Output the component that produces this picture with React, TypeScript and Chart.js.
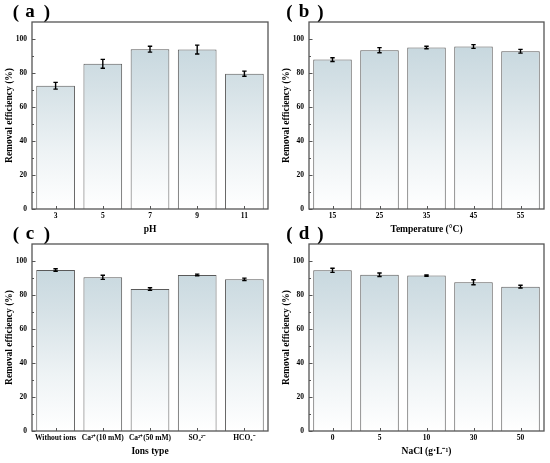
import { useEffect, useRef } from 'react'
import Chart from 'chart.js/auto'

const FONT = "'Liberation Serif', 'Times New Roman', serif"

const yMax = 110
const yStep = 20

const phLabels = ['3', '5', '7', '9', '11']
const phValues = [72.5, 85.4, 94.0, 93.8, 79.6]
const phErrors = [2.0, 2.6, 1.7, 2.6, 1.5]

const tempLabels = ['15', '25', '35', '45', '55']
const tempValues = [87.9, 93.4, 95.0, 95.6, 92.8]
const tempErrors = [1.1, 1.5, 0.7, 1.1, 1.1]

const ionLabels = ['Without ions', 'Ca²⁺(10 mM)', 'Ca²⁺(50 mM)', 'SO₄²⁻', 'HCO₃⁻']
const ionValues = [94.7, 90.4, 83.5, 91.8, 89.2]
const ionErrors = [0.7, 1.2, 0.8, 0.5, 0.7]

const naclLabels = ['0', '5', '10', '30', '50']
const naclValues = [94.5, 91.9, 91.4, 87.5, 84.9]
const naclErrors = [1.2, 1.0, 0.4, 1.5, 0.8]

// error bars, inward ticks, frame and the panel tag
const framePlugin = {
  id: 'frame',
  afterDatasetsDraw(chart: any, _args: any, opts: any) {
    const { ctx, chartArea: a, scales } = chart
    const x = scales.x
    const y = scales.y
    const vals = chart.data.datasets[0].data as number[]
    const errs = opts.errors as number[]
    const meta = chart.getDatasetMeta(0)
    ctx.save()

    ctx.strokeStyle = '#000'
    ctx.lineWidth = 1.4
    meta.data.forEach((bar: any, i: number) => {
      const top = y.getPixelForValue(vals[i] + errs[i])
      const bot = y.getPixelForValue(vals[i] - errs[i])
      ctx.beginPath()
      ctx.moveTo(bar.x, top)
      ctx.lineTo(bar.x, bot)
      ctx.moveTo(bar.x - 2.2, top)
      ctx.lineTo(bar.x + 2.2, top)
      ctx.moveTo(bar.x - 2.2, bot)
      ctx.lineTo(bar.x + 2.2, bot)
      ctx.stroke()
    })

    ctx.strokeStyle = '#555'
    ctx.lineWidth = 1
    ctx.beginPath()
    for (let v = 0; v <= 100; v += 10) {
      const py = Math.round(y.getPixelForValue(v)) + 0.5
      const len = v % 20 === 0 ? 3.5 : 2
      ctx.moveTo(a.left, py)
      ctx.lineTo(a.left + len, py)
    }
    chart.data.labels.forEach((_l: string, i: number) => {
      const px = Math.round(x.getPixelForValue(i)) + 0.5
      ctx.moveTo(px, a.bottom)
      ctx.lineTo(px, a.bottom - 3)
    })
    ctx.stroke()

    ctx.lineWidth = 1.3
    ctx.strokeRect(a.left, a.top, a.right - a.left, a.bottom - a.top)

    ctx.fillStyle = '#000'
    ctx.textAlign = 'center'
    ctx.textBaseline = 'middle'
    ctx.font = `bold 19px ${FONT}`
    const [p1, p2, p3] = opts.tagX as number[]
    ctx.fillText('(', p1, 13)
    ctx.fillText(opts.tag, p2, 12)
    ctx.fillText(')', p3, 13)
    ctx.restore()
  },
}

type PanelProps = {
  left: number
  top: number
  tag: string
  tagX: number[]
  labels: string[]
  values: number[]
  errors: number[]
  xTitle: string
  axisWidth: number
  padRight: number
  yTitlePad: number
}

function Panel(p: PanelProps) {
  const canvasRef = useRef<HTMLCanvasElement>(null)

  useEffect(() => {
    if (!canvasRef.current) return
    const chart = new Chart(canvasRef.current, {
      type: 'bar',
      data: {
        labels: p.labels,
        datasets: [
          {
            data: p.values,
            backgroundColor: (c: any) => {
              const area = c.chart.chartArea
              if (!area) return '#dbe6eb'
              const g = c.chart.ctx.createLinearGradient(0, area.top, 0, area.bottom)
              g.addColorStop(0, '#bfd2da')
              g.addColorStop(0.35, '#d5e1e6')
              g.addColorStop(0.7, '#eef3f5')
              g.addColorStop(1, '#ffffff')
              return g
            },
            borderColor: '#5a5a5a',
            borderWidth: 1,
            barPercentage: 0.82,
            categoryPercentage: 1,
          },
        ],
      },
      options: {
        responsive: false,
        animation: false,
        layout: { padding: { top: 22, right: p.padRight, left: 0, bottom: 0 } },
        plugins: {
          legend: { display: false },
          tooltip: { enabled: false },
          frame: { errors: p.errors, tag: p.tag, tagX: p.tagX },
        } as any,
        scales: {
          x: {
            grid: { display: false, drawTicks: false },
            border: { display: false },
            ticks: {
              color: '#000',
              padding: 3,
              maxRotation: 0,
              autoSkip: false,
              font: { family: FONT, size: 7.5, weight: 'bold' },
            },
            title: {
              display: true,
              text: p.xTitle,
              color: '#000',
              padding: { top: 5, bottom: 5.5 },
              font: { family: FONT, size: 9.5, weight: 'bold' },
            },
            afterFit: (s: any) => {
              s.height = 32
            },
          },
          y: {
            min: 0,
            max: yMax,
            grid: { display: false, drawTicks: false },
            border: { display: false },
            ticks: {
              stepSize: yStep,
              includeBounds: false,
              color: '#000',
              padding: 5,
              font: { family: FONT, size: 7.5, weight: 'bold' },
            },
            title: {
              display: true,
              text: 'Removal efficiency (%)',
              color: '#000',
              padding: { top: p.yTitlePad, bottom: p.yTitlePad },
              font: { family: FONT, size: 9.5, weight: 'bold' },
            },
            afterFit: (s: any) => {
              s.width = p.axisWidth
            },
          },
        },
      },
      plugins: [framePlugin],
    } as any)
    return () => chart.destroy()
  }, [])

  return (
    <canvas
      ref={canvasRef}
      width={275}
      height={241}
      style={{ position: 'absolute', left: p.left, top: p.top, width: 275, height: 241 }}
    />
  )
}

export default function App() {
  return (
    <div style={{ position: 'absolute', left: 0, top: 0, width: 550, height: 463, background: '#fff' }}>
      <Panel left={0} top={0} tag="a" tagX={[16, 30, 47]} labels={phLabels} values={phValues}
        errors={phErrors} xTitle="pH" axisWidth={32} padRight={7} yTitlePad={4} />
      <Panel left={275} top={0} tag="b" tagX={[14.5, 29, 45.5]} labels={tempLabels} values={tempValues}
        errors={tempErrors} xTitle="Temperature (°C)" axisWidth={34} padRight={6} yTitlePad={6} />
      <Panel left={0} top={222} tag="c" tagX={[16, 30, 47]} labels={ionLabels} values={ionValues}
        errors={ionErrors} xTitle="Ions type" axisWidth={32} padRight={7} yTitlePad={4} />
      <Panel left={275} top={222} tag="d" tagX={[14.5, 29, 45.5]} labels={naclLabels} values={naclValues}
        errors={naclErrors} xTitle="NaCl (g·L⁻¹)" axisWidth={34} padRight={6} yTitlePad={6} />
    </div>
  )
}
